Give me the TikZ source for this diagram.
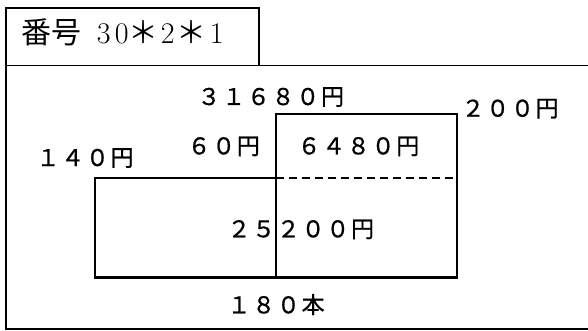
\documentclass[tikz,border=0pt]{standalone}
\usepackage{fontspec}
\newfontfamily\jp{Noto Sans CJK JP}
\newfontfamily\jpb{Noto Sans CJK JP}[FakeBold=0.8]
\def\spaced#1{\spacedi#1\relax}
\def\spacedi#1{\ifx#1\relax\else\makebox[24.7pt][c]{#1}\expandafter\spacedi\fi}
\begin{document}
\begin{tikzpicture}[x=1pt,y=-1pt,
  thinbox/.style={draw=black,line width=1.4pt},
  thickbox/.style={draw=black,line width=2.3pt},
  lbl/.style={anchor=base west,inner sep=0pt,font=\jpb\fontsize{23}{25}\selectfont},
  ttl/.style={anchor=base west,inner sep=0pt,font=\fontsize{30}{32}\selectfont}]
\useasboundingbox (0,0) rectangle (588,331);
\fill[white] (0,0) rectangle (588,331);
% frames
\draw[thinbox] (6,8) rectangle (259,65.3);
\draw[thinbox] (600,65.3) -- (6,65.3) -- (6,329) -- (600,329);
\node[ttl] (title) at (21.5,43.5) {\makebox[73pt][l]{\jp 番号}\makebox[18pt][c]{3}\makebox[18pt][c]{0}\makebox[25pt][c]{\jp ＊}\makebox[24pt][c]{2}\makebox[24pt][c]{\jp ＊}\makebox[26pt][c]{1}};
% area rectangles
\coordinate (a) at (94.7,177.8);
\coordinate (b) at (275.7,277.5);
\coordinate (c) at (275.7,114.3);
\coordinate (d) at (456.7,277.5);
\draw[thickbox] (a) rectangle (b);
\draw[thickbox] (c) rectangle (d);
\draw[thickbox,dash pattern=on 8pt off 5pt] (c |- a) -- (d |- a);
% labels
\node[lbl] (t1) at (196.5,105) {\spaced{３１６８０円}};
\node[lbl] (t2) at (460.5,116.7) {\spaced{２００円}};
\node[lbl] (t3) at (186.5,154.3) {\spaced{６０円}};
\node[lbl] (t4) at (296.5,154.3) {\spaced{６４８０円}};
\node[lbl] (t5) at (35.5,166) {\spaced{１４０円}};
\node[lbl] (t6) at (226.5,237.3) {\spaced{２５２００円}};
\node[lbl] (t7) at (226.5,313.3) {\spaced{１８０本}};
\end{tikzpicture}
\end{document}
